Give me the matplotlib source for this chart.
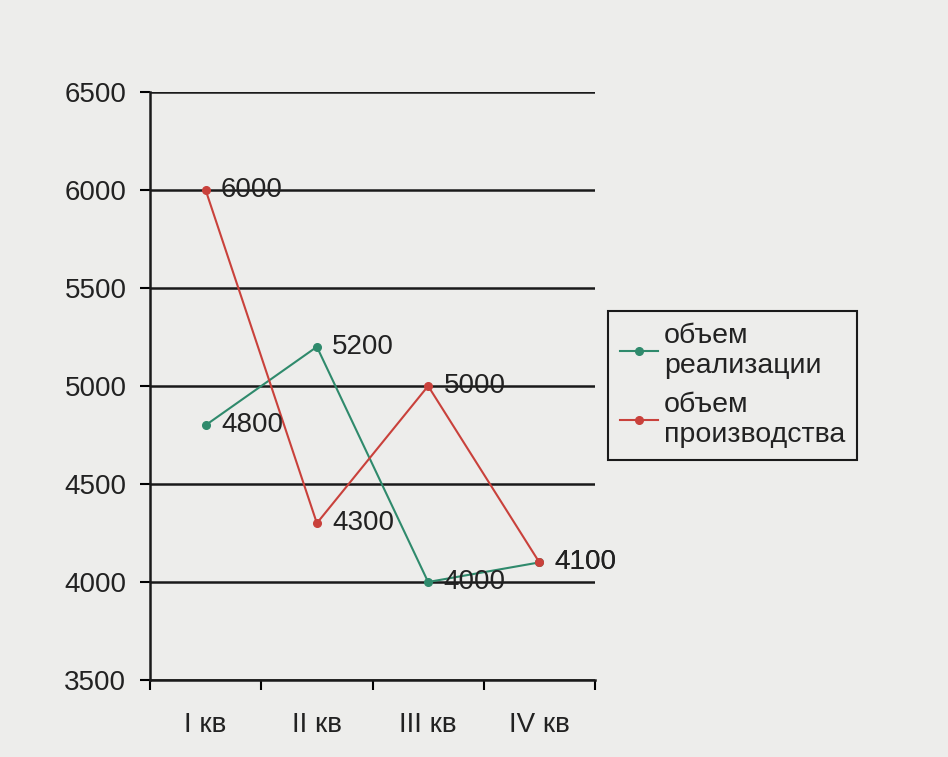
import numpy as np
import matplotlib.pyplot as plt

plt.rcParams['font.family'] = ['Liberation Sans', 'DejaVu Sans']

# data
quarters = ['I кв', 'II кв', 'III кв', 'IV кв']
sales = [4800, 5200, 4000, 4100]        # объем реализации
production = [6000, 4300, 5000, 4100]  # объем производства
yticks = [3500, 4000, 4500, 5000, 5500, 6000, 6500]

bg = '#ededeb'
ink = '#222222'
green = '#2f8a6c'
red = '#c9413b'
fs = 20

fig = plt.figure(figsize=(9.48, 7.57), dpi=100, facecolor=bg)
ax = fig.add_axes([150/948, 77/757, 445/948, 588/757], facecolor=bg)

x = np.arange(len(quarters))
ax.plot(x, sales, color=green, lw=1.5, marker='o', ms=5.5,
        label='объем\nреализации', zorder=3)
ax.plot(x, production, color=red, lw=1.5, marker='o', ms=5.5,
        label='объем\nпроизводства', zorder=3)

# data labels to the right of each point
for series in (sales, production):
    for xi, v in zip(x, series):
        ax.annotate(str(v), (xi, v), xytext=(11, 0), textcoords='offset points',
                    va='center', ha='left', fontsize=fs, color=ink, zorder=4)

ax.set_xlim(-0.5, len(quarters) - 0.5)
ax.set_ylim(3500, 6500)
ax.set_yticks(yticks)
ax.set_yticklabels([str(t) for t in yticks], fontsize=fs, color=ink)
ax.set_xticks(x)
ax.set_xticklabels(quarters, fontsize=fs, color=ink)
ax.set_xticks(np.arange(len(quarters) + 1) - 0.5, minor=True)

ax.tick_params(axis='x', which='major', length=0, pad=23)
ax.tick_params(axis='x', which='minor', length=7, width=1.5, direction='out')
ax.tick_params(axis='y', length=7, width=1.5, direction='out', pad=10)

ax.yaxis.grid(True, color='#1a1a1a', lw=1.8)
ax.set_axisbelow(True)
for s in ('top', 'right'):
    ax.spines[s].set_visible(False)
for s in ('left', 'bottom'):
    ax.spines[s].set_linewidth(1.8)
    ax.spines[s].set_color('#1a1a1a')

leg = fig.legend(loc='upper left', bbox_to_anchor=(608/948, 1 - 311/757),
                 fontsize=20.5, frameon=True, fancybox=False, facecolor=bg,
                 edgecolor='#1a1a1a', framealpha=1, handlelength=1.35,
                 handletextpad=0.2, labelspacing=0.45, borderpad=0.42,
                 borderaxespad=0)
leg.get_frame().set_linewidth(1.5)
for t in leg.get_texts():
    t.set_color(ink)

fig.savefig('out.png', dpi=100, facecolor=bg)
